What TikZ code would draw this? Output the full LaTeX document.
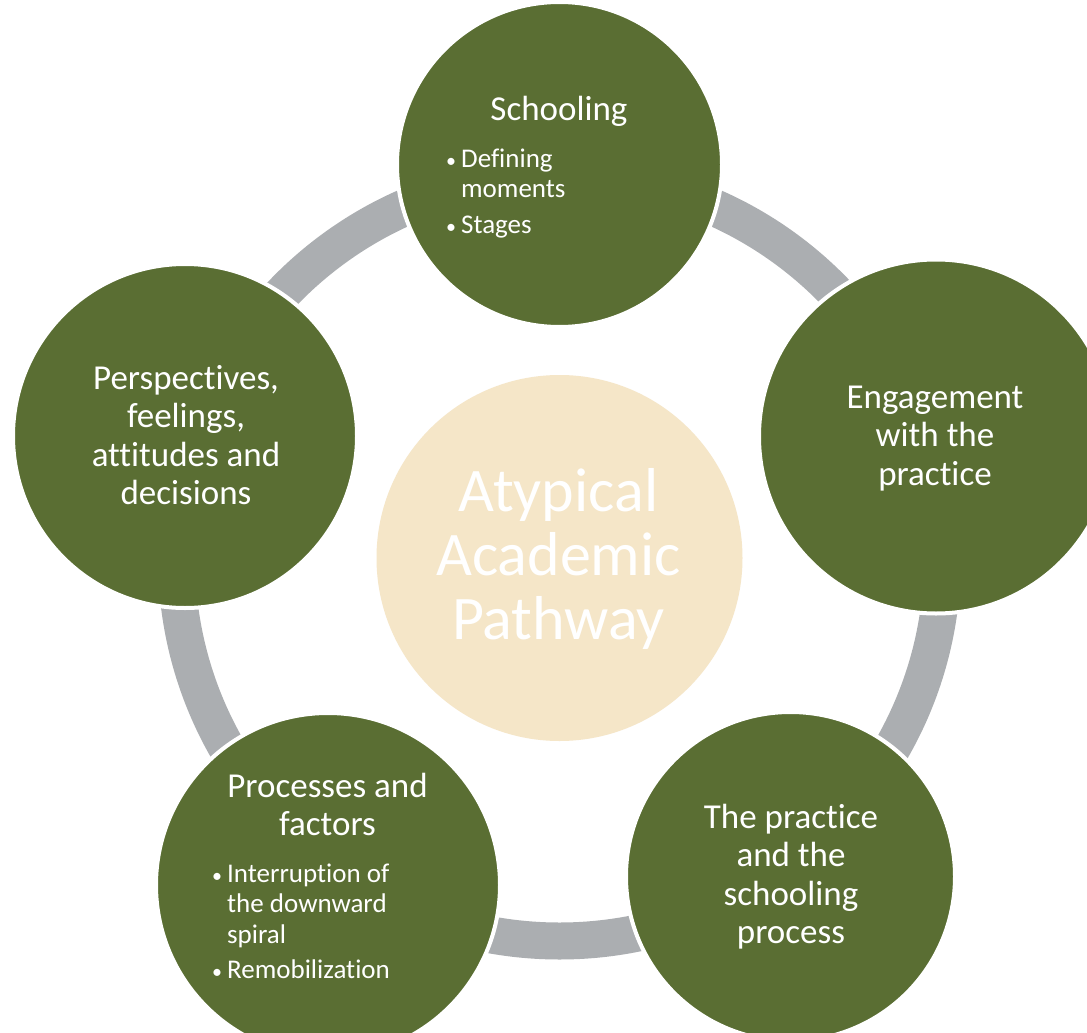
\documentclass[tikz,border=0pt]{standalone}
\usepackage{fontspec}
\setmainfont{Carlito}[Ligatures={NoCommon}]
\definecolor{pgreen}{RGB}{90,110,51}
\definecolor{pcream}{RGB}{245,230,200}
\definecolor{pgrey}{RGB}{171,174,177}
\newcommand{\bdot}{{\fontsize{20}{20}\selectfont•}\kern5pt}
\tikzset{
  bub/.style={circle, fill=pgreen, draw=white, line width=4pt, inner sep=0pt},
  hub/.style={circle, fill=pcream, inner sep=0pt},
  ttl/.style={text=white, inner sep=0pt, anchor=base, font=\fontsize{35}{38.5}\selectfont},
  bul/.style={text=white, inner sep=0pt, anchor=base west, font=\fontsize{27}{30.5}\selectfont},
  ctr/.style={text=white, inner sep=0pt, anchor=base, font=\fontsize{62}{64}\selectfont}
}
\begin{document}
\begin{tikzpicture}[x=1pt,y=-1pt]
\useasboundingbox (0,0) rectangle (1087,1033);
\clip (0,0) rectangle (1087,1033);
\fill[white] (0,0) rectangle (1087,1033);
\coordinate (c) at (559.5,558);
\draw[pgrey, line width=37pt] (c) circle[radius=383];
\node[hub, minimum size=366pt] (hubc) at (c) {};
\node[bub, minimum size=325pt] (top) at (559.5,164.5) {};
\node[bub, minimum size=354pt] (right) at (936,436.5) {};
\node[bub, minimum size=329pt] (bright) at (790.5,876.5) {};
\node[bub, minimum size=344pt] (bleft) at (328,885) {};
\node[bub, minimum size=344pt] (left) at (185,436) {};
% texts
\node[ctr] (tc) at (558.5,511.7) {\begin{tabular}[t]{@{}c@{}}Atypical\\Academic\\Pathway\end{tabular}};
\node[ttl] (t1) at (559,120) {Schooling};
\node[bul] (b1) at (446,167) {\begin{tabular}[t]{@{}l@{}l@{}}\bdot&Defining\\&moments\\[5pt]\bdot&Stages\end{tabular}};
\node[ttl] (t2) at (935,408) {\begin{tabular}[t]{@{}c@{}}Engagement\\with the\\practice\end{tabular}};
\node[ttl] (t3) at (791,828) {\begin{tabular}[t]{@{}c@{}}The practice\\and the\\schooling\\process\end{tabular}};
\node[ttl] (t4) at (327.5,797) {\begin{tabular}[t]{@{}c@{}}Processes and\\factors\end{tabular}};
\node[bul] (b4) at (212,882) {\begin{tabular}[t]{@{}l@{}l@{}}\bdot&Interruption of\\&the downward\\&spiral\\[5pt]\bdot&Remobilization\end{tabular}};
\node[ttl] (t5) at (186,389) {\begin{tabular}[t]{@{}c@{}}Perspectives,\\feelings,\\attitudes and\\decisions\end{tabular}};
\end{tikzpicture}
\end{document}
